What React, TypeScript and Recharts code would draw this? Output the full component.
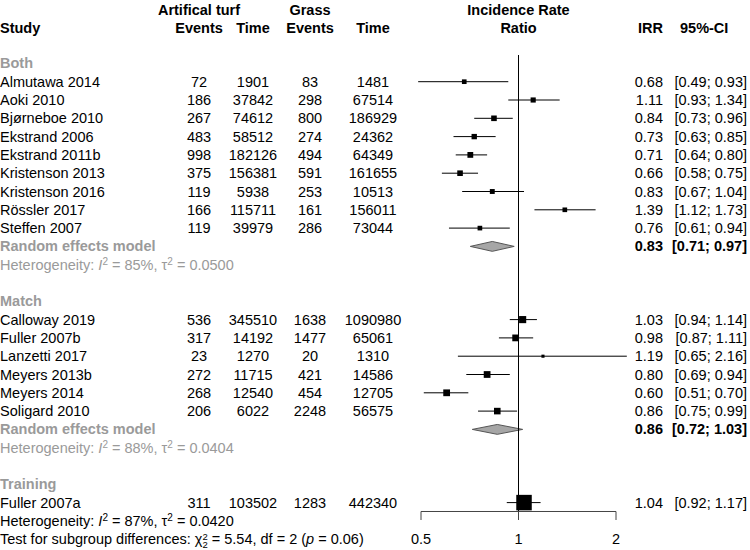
import {
  ComposedChart,
  XAxis,
  YAxis,
  Scatter,
  ErrorBar,
  Area,
  ReferenceLine,
  ReferenceDot,
} from "recharts";

// study level data
const studies = [
  "Almutawa 2014", "Aoki 2010", "Bjørneboe 2010", "Ekstrand 2006", "Ekstrand 2011b",
  "Kristenson 2013", "Kristenson 2016", "Rössler 2017", "Steffen 2007",
  "Calloway 2019", "Fuller 2007b", "Lanzetti 2017", "Meyers 2013b", "Meyers 2014", "Soligard 2010",
  "Fuller 2007a",
];
const studyGroup = [0, 0, 0, 0, 0, 0, 0, 0, 0, 1, 1, 1, 1, 1, 1, 2];
const turfEvents = [72, 186, 267, 483, 998, 375, 119, 166, 119, 536, 317, 23, 272, 268, 206, 311];
const turfTime = [1901, 37842, 74612, 58512, 182126, 156381, 5938, 115711, 39979, 345510, 14192, 1270, 11715, 12540, 6022, 103502];
const grassEvents = [83, 298, 800, 274, 494, 591, 253, 161, 286, 1638, 1477, 20, 421, 454, 2248, 1283];
const grassTime = [1481, 67514, 186929, 24362, 64349, 161655, 10513, 156011, 73044, 1090980, 65061, 1310, 14586, 12705, 56575, 442340];
const irr = [0.68, 1.11, 0.84, 0.73, 0.71, 0.66, 0.83, 1.39, 0.76, 1.03, 0.98, 1.19, 0.8, 0.6, 0.86, 1.04];
const ciLow = [0.49, 0.93, 0.73, 0.63, 0.64, 0.58, 0.67, 1.12, 0.61, 0.94, 0.87, 0.65, 0.69, 0.51, 0.75, 0.92];
const ciHigh = [0.93, 1.34, 0.96, 0.85, 0.8, 0.75, 1.04, 1.73, 0.94, 1.14, 1.11, 2.16, 0.94, 0.7, 0.99, 1.17];
const weight = [9, 11, 13, 12, 14, 13, 10, 9, 9, 21, 19, 4, 19, 19, 18, 100]; // % within subgroup

// subgroups
const groups = ["Both", "Match", "Training"];
const pooledIrr = [0.83, 0.86, null];
const pooledLow = [0.71, 0.72, null];
const pooledHigh = [0.97, 1.03, null];
const groupI2 = [85, 88, null];
const groupTau2 = ["0.0500", "0.0404", null];

const overallI2 = 87;
const overallTau2 = "0.0420";
const testChi2 = "5.54";
const testDf = 2;
const testP = "0.06";

const axisTicks = [0.5, 1, 2];

// layout
const W = 750;
const H = 550;
const ROW0_Y = 63.4;
const ROW_H = 18.3;
const PLOT_LEFT = 400;
const PLOT_RIGHT = 642;
const X_AT_HALF = 421;
const PX_PER_DOUBLING = 97.5;
const xDomain = [
  2 ** ((PLOT_LEFT - X_AT_HALF) / PX_PER_DOUBLING - 1),
  2 ** ((PLOT_RIGHT - X_AT_HALF) / PX_PER_DOUBLING - 1),
];
const yDomain = [-ROW0_Y / ROW_H, (H - ROW0_Y) / ROW_H];
const HEAD1 = -2.92;
const HEAD2 = -1.92;
const DIAMOND_HALF = 0.27;
const SQUARE_K = 1.55;

const FONT = "'Liberation Sans', Arial, Helvetica, sans-serif";
const FS = 14.5;
const GRAY = "#9a9a9a";
const COL = { turfEvents: 199, turfTime: 253, grassEvents: 310, grassTime: 373, irr: 663, ci: 747 };

type Row = { pos: number; kind: string; i?: number; g?: number };
const rows: Row[] = [
  { pos: HEAD1, kind: "head1" },
  { pos: HEAD2, kind: "head2" },
];
let p = 0;
groups.forEach((_, g) => {
  rows.push({ pos: p++, kind: "group", g });
  studies.forEach((_, i) => {
    if (studyGroup[i] === g) rows.push({ pos: p++, kind: "study", i });
  });
  if (pooledIrr[g] != null) {
    rows.push({ pos: p++, kind: "pooled", g });
    rows.push({ pos: p++, kind: "het", g });
    p++;
  }
});
rows.push({ pos: p++, kind: "overallHet" });
rows.push({ pos: p++, kind: "test" });
const rowTicks = rows.map((r) => r.pos);
const rowByPos = new Map(rows.map((r) => [r.pos, r]));

const studyPoints = rows
  .filter((r) => r.kind === "study")
  .map((r) => {
    const i = r.i as number;
    return { x: irr[i], y: r.pos, err: [irr[i] - ciLow[i], ciHigh[i] - irr[i]], w: weight[i] };
  });

const diamonds = rows
  .filter((r) => r.kind === "pooled")
  .map((r) => {
    const g = r.g as number;
    return [
      { x: pooledLow[g], band: [r.pos, r.pos] },
      { x: pooledIrr[g], band: [r.pos - DIAMOND_HALF, r.pos + DIAMOND_HALF] },
      { x: pooledHigh[g], band: [r.pos, r.pos] },
    ];
  });

const txt = (x: number, y: number, s: any, opts: any = {}) => (
  <text x={x} y={y} dy="0.35em" fontFamily={FONT} fontSize={FS} fill="#000" {...opts}>
    {s}
  </text>
);

function Het({ y, i2, tau2, color }: any) {
  return (
    <text x={0} y={y} dy="0.35em" fontFamily={FONT} fontSize={FS} fill={color}>
      Heterogeneity: <tspan fontStyle="italic">I</tspan>
      <tspan dy={-5} fontSize={10}>2</tspan>
      <tspan dy={5}> = {i2}%, τ</tspan>
      <tspan dy={-5} fontSize={10}>2</tspan>
      <tspan dy={5}> = {tau2}</tspan>
    </text>
  );
}

function LeftTick(props: any) {
  const { y, payload } = props;
  const row = rowByPos.get(payload.value);
  if (!row) return null;
  const bold = { fontWeight: "bold" };
  const mid = { textAnchor: "middle" };
  if (row.kind === "head1")
    return (
      <g>
        {txt(COL.turfEvents, y, "Artifical turf", { ...bold, ...mid })}
        {txt(COL.grassEvents, y, "Grass", { ...bold, ...mid })}
      </g>
    );
  if (row.kind === "head2")
    return (
      <g>
        {txt(0, y, "Study", bold)}
        {txt(COL.turfEvents, y, "Events", { ...bold, ...mid })}
        {txt(COL.turfTime, y, "Time", { ...bold, ...mid })}
        {txt(COL.grassEvents, y, "Events", { ...bold, ...mid })}
        {txt(COL.grassTime, y, "Time", { ...bold, ...mid })}
      </g>
    );
  if (row.kind === "group") return txt(0, y, groups[row.g as number], { ...bold, fill: GRAY });
  if (row.kind === "study") {
    const i = row.i as number;
    return (
      <g>
        {txt(0, y, studies[i])}
        {txt(COL.turfEvents, y, turfEvents[i], mid)}
        {txt(COL.turfTime, y, turfTime[i], mid)}
        {txt(COL.grassEvents, y, grassEvents[i], mid)}
        {txt(COL.grassTime, y, grassTime[i], mid)}
      </g>
    );
  }
  if (row.kind === "pooled") return txt(0, y, "Random effects model", { ...bold, fill: GRAY });
  if (row.kind === "het")
    return <Het y={y} i2={groupI2[row.g as number]} tau2={groupTau2[row.g as number]} color={GRAY} />;
  if (row.kind === "overallHet") return <Het y={y} i2={overallI2} tau2={overallTau2} color="#000" />;
  if (row.kind === "test")
    return (
      <text x={0} y={y} dy="0.35em" fontFamily={FONT} fontSize={FS} fill="#000">
        Test for subgroup differences: χ
        <tspan dy={-4.5} fontSize={9.5}>2</tspan>
        <tspan dx={-5.3} dy={8.5} fontSize={9.5}>{testDf}</tspan>
        <tspan dy={-4}> = {testChi2}, df = {testDf} (</tspan>
        <tspan fontStyle="italic">p</tspan>
        <tspan> = {testP})</tspan>
      </text>
    );
  return null;
}

function RightTick(props: any) {
  const { y, payload } = props;
  const row = rowByPos.get(payload.value);
  if (!row) return null;
  const end = { textAnchor: "end" };
  if (row.kind === "head2")
    return (
      <g>
        {txt(COL.irr, y, "IRR", { ...end, fontWeight: "bold" })}
        {txt(680, y, "95%-CI", { fontWeight: "bold" })}
      </g>
    );
  let est: number | null = null;
  let lo: number | null = null;
  let hi: number | null = null;
  let bold = {};
  if (row.kind === "study") {
    const i = row.i as number;
    est = irr[i];
    lo = ciLow[i];
    hi = ciHigh[i];
  } else if (row.kind === "pooled") {
    const g = row.g as number;
    est = pooledIrr[g];
    lo = pooledLow[g];
    hi = pooledHigh[g];
    bold = { fontWeight: "bold" };
  }
  if (est == null || lo == null || hi == null) return null;
  return (
    <g>
      {txt(COL.irr, y, est.toFixed(2), { ...end, ...bold })}
      {txt(COL.ci, y, `[${lo.toFixed(2)}; ${hi.toFixed(2)}]`, { ...end, ...bold })}
    </g>
  );
}

const centerLabel = (s: string, bold: boolean) => (props: any) => {
  const vb = props.viewBox;
  return (
    <text
      x={vb.x + vb.width / 2}
      y={vb.y + vb.height / 2}
      dy="0.35em"
      textAnchor="middle"
      fontFamily={FONT}
      fontSize={FS}
      fontWeight={bold ? "bold" : "normal"}
      fill="#000"
    >
      {s}
    </text>
  );
};

const Square = (props: any) => {
  const { cx, cy, payload } = props;
  const s = SQUARE_K * Math.sqrt(payload.w);
  return <rect x={cx - s / 2} y={cy - s / 2} width={s} height={s} fill="#000" />;
};

const REF_TOP = -0.459;
const AXIS_POS = 24.486;
const TICK_END = 24.95;
const TICK_LABEL_POS = 26;

export default function App() {
  return (
    <div style={{ width: W, height: H }}>
      <style>{"body{margin:0}"}</style>
      <ComposedChart width={W} height={H} margin={{ top: 0, right: 0, bottom: 0, left: 0 }}>
        <XAxis type="number" dataKey="x" scale="log" domain={xDomain} allowDataOverflow hide />
        <YAxis
          yAxisId="left"
          type="number"
          dataKey="y"
          domain={yDomain}
          allowDataOverflow
          reversed
          width={PLOT_LEFT}
          ticks={rowTicks}
          interval={0}
          axisLine={false}
          tickLine={false}
          tick={LeftTick}
        />
        <YAxis
          yAxisId="right"
          orientation="right"
          type="number"
          domain={yDomain}
          allowDataOverflow
          reversed
          width={W - PLOT_RIGHT}
          ticks={rowTicks}
          interval={0}
          axisLine={false}
          tickLine={false}
          tick={RightTick}
        />

        {/* line of no effect and x axis */}
        <ReferenceLine
          yAxisId="left"
          segment={[{ x: 1, y: REF_TOP }, { x: 1, y: AXIS_POS }]}
          stroke="#000"
          strokeWidth={1}
        />
        <ReferenceLine
          yAxisId="left"
          segment={[{ x: axisTicks[0], y: AXIS_POS }, { x: axisTicks[axisTicks.length - 1], y: AXIS_POS }]}
          stroke="#444"
          strokeWidth={1}
        />
        {axisTicks.map((t) => (
          <ReferenceLine
            key={"t" + t}
            yAxisId="left"
            segment={[{ x: t, y: AXIS_POS }, { x: t, y: TICK_END }]}
            stroke="#444"
            strokeWidth={1}
          />
        ))}
        {axisTicks.map((t) => (
          <ReferenceDot
            key={"l" + t}
            yAxisId="left"
            x={t}
            y={TICK_LABEL_POS}
            r={0}
            fill="none"
            stroke="none"
            label={centerLabel(String(t), false)}
          />
        ))}
        <ReferenceDot yAxisId="left" x={1} y={HEAD1} r={0} fill="none" stroke="none" label={centerLabel("Incidence Rate", true)} />
        <ReferenceDot yAxisId="left" x={1} y={HEAD2} r={0} fill="none" stroke="none" label={centerLabel("Ratio", true)} />

        {diamonds.map((d, k) => (
          <Area
            key={"d" + k}
            yAxisId="left"
            data={d}
            dataKey="band"
            type="linear"
            fill="#a6a6a6"
            fillOpacity={1}
            stroke="#555"
            strokeWidth={1}
            dot={false}
            activeDot={false}
            isAnimationActive={false}
          />
        ))}

        <Scatter yAxisId="left" data={studyPoints} shape={Square} isAnimationActive={false}>
          <ErrorBar dataKey="err" direction="x" width={0} stroke="#000" strokeWidth={1} isAnimationActive={false} />
        </Scatter>
      </ComposedChart>
    </div>
  );
}
